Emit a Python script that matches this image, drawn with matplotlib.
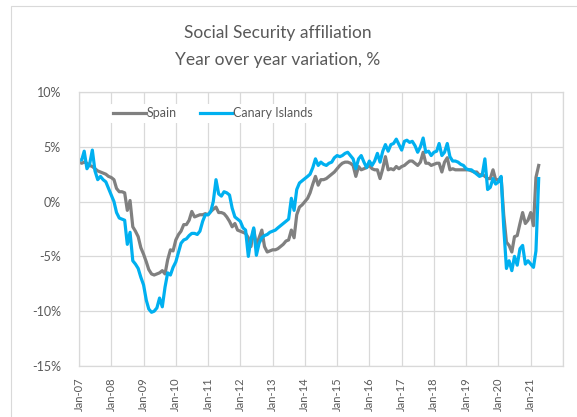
import matplotlib
matplotlib.use("Agg")
import matplotlib.pyplot as plt
from matplotlib.patches import Rectangle
import pandas as pd

plt.rcParams['font.family'] = ['Lato', 'DejaVu Sans']

# year over year variation, %, monthly from Jan 2007
spain = [
    3.6, 3.5, 3.6, 3.5, 3.3, 3.2, 3.0, 2.8, 2.7, 2.6, 2.5, 2.3,          # 2007
    2.2, 2.0, 1.2, 0.9, 0.9, 0.8, -0.8, 0.1, -2.3, -2.7, -3.2, -4.2,     # 2008
    -4.8, -5.5, -6.2, -6.6, -6.7, -6.6, -6.5, -6.3, -6.6, -5.3, -4.4, -4.5,  # 2009
    -3.5, -3.0, -2.7, -2.1, -2.1, -1.7, -0.9, -1.4, -1.3, -1.2, -1.2, -1.1,  # 2010
    -1.2, -0.9, -0.7, -0.5, -1.0, -1.0, -1.1, -1.4, -1.8, -2.3, -2.0, -2.6,  # 2011
    -2.7, -2.8, -2.9, -3.3, -4.1, -2.5, -4.0, -3.3, -2.6, -4.1, -4.6, -4.5,  # 2012
    -4.4, -4.4, -4.3, -4.1, -3.9, -3.6, -3.5, -2.6, -3.3, -1.2, -0.5, -0.3,  # 2013
    0.0, 0.3, 0.8, 1.6, 2.3, 1.5, 2.0, 2.0, 2.1, 2.3, 2.5, 2.7,          # 2014
    3.0, 3.3, 3.5, 3.6, 3.6, 3.5, 3.3, 2.3, 3.2, 2.9, 3.0, 3.1,          # 2015
    3.3, 3.0, 2.9, 2.9, 2.1, 3.0, 4.1, 2.9, 3.0, 2.9, 3.2, 3.0,          # 2016
    3.2, 3.3, 3.5, 3.7, 3.7, 3.5, 3.3, 3.6, 4.5, 3.5, 3.5, 3.3,          # 2017
    3.4, 3.5, 3.5, 2.7, 3.6, 4.0, 2.9, 3.0, 2.9, 2.9, 2.9, 2.9,          # 2018
    2.9, 2.9, 2.8, 2.7, 2.7, 2.4, 2.5, 2.3, 2.1, 2.1, 2.9, 2.0,          # 2019
    2.0, 2.2, -1.2, -3.7, -4.0, -4.6, -3.2, -3.1, -2.0, -1.0, -2.0, -1.7,  # 2020
    -1.0, -2.2, 2.2, 3.3,                                                # 2021
]

canary = [
    3.8, 3.8, 4.6, 3.0, 3.4, 4.7, 2.8, 2.0, 2.3, 2.0, 1.8, 1.2,          # 2007
    0.6, 0.0, -1.0, -1.5, -1.6, -1.7, -3.9, -2.8, -5.4, -5.7, -6.1, -6.9,  # 2008
    -7.6, -9.0, -9.8, -10.1, -10.0, -9.7, -8.8, -9.6, -7.8, -6.5, -6.7, -6.0,  # 2009
    -5.5, -4.6, -3.8, -3.5, -3.4, -3.1, -2.9, -2.9, -3.0, -2.7, -1.8, -1.2,  # 2010
    -1.2, -0.9, 0.0, 2.0, 0.7, 0.5, 0.9, 0.8, 0.6, -0.6, -1.4, -1.6,     # 2011
    -1.8, -2.4, -2.6, -5.0, -3.4, -2.4, -4.9, -3.8, -3.3, -3.1, -3.0, -2.8,  # 2012
    -2.7, -2.6, -2.4, -2.2, -2.0, -1.8, -1.6, 0.3, -0.8, 1.1, 1.7, 1.9,  # 2013
    2.1, 2.3, 2.5, 3.1, 3.9, 3.3, 3.6, 3.4, 3.3, 3.5, 3.6, 4.0,          # 2014
    4.2, 4.1, 4.2, 4.4, 4.5, 4.2, 3.9, 3.0, 3.9, 4.2, 3.6, 3.1,          # 2015
    3.7, 3.3, 3.7, 4.4, 3.6, 4.6, 5.2, 4.6, 5.2, 5.3, 5.7, 5.2,          # 2016
    4.7, 5.5, 5.6, 5.4, 5.5, 5.1, 4.5, 5.0, 5.8, 4.5, 4.6, 4.2,          # 2017
    4.5, 4.6, 5.3, 4.2, 4.5, 5.3, 4.1, 3.7, 3.7, 3.6, 3.4, 3.3,          # 2018
    3.0, 2.9, 2.9, 2.7, 2.5, 2.3, 2.4, 3.9, 1.1, 1.3, 2.1, 1.6,          # 2019
    1.8, 2.3, -2.3, -6.1, -5.4, -6.3, -5.0, -5.8, -4.3, -4.0, -5.7, -5.4,  # 2020
    -5.7, -6.0, -4.5, 2.1,                                               # 2021
]

months = pd.date_range('2007-01-01', periods=len(spain), freq='MS')
year_ticks = pd.date_range('2007-01-01', '2022-01-01', freq='YS')
y_ticks = [-15, -10, -5, 0, 5, 10]

grid_c = '#d9d9d9'
text_c = '#595959'

fig = plt.figure(figsize=(5.77, 4.17), dpi=100)
ax = fig.add_axes([0.1369, 0.1223, 0.8388, 0.6571])

# outer chart frame (runs off the right and bottom of the image)
fig.patches.append(Rectangle((11 / 577, -0.2), 1.2, 0.2 + (417 - 6) / 417,
                             transform=fig.transFigure, fill=False,
                             edgecolor=grid_c, linewidth=0.8))

ax.plot(months, spain, color='#808080', linewidth=2.3, label='Spain')
ax.plot(months, canary, color='#00B0F0', linewidth=2.3, label='Canary Islands')

ax.set_xlim(year_ticks[0], year_ticks[-1])
ax.set_ylim(-15, 10)
ax.set_yticks(y_ticks)
ax.set_yticklabels([f'{v}%' for v in y_ticks])
ax.set_xticks(year_ticks)
ax.set_xticklabels([d.strftime('Jan-%y') for d in year_ticks[:-1]] + [''],
                   rotation=90)

ax.grid(True, color=grid_c, linewidth=0.9)
ax.set_axisbelow(True)
for s in ax.spines.values():
    s.set_color(grid_c)
    s.set_linewidth(0.9)
ax.tick_params(length=0, colors=text_c)
ax.tick_params(axis='y', labelsize=9, pad=13)
ax.tick_params(axis='x', labelsize=8, pad=8)

leg = ax.legend(loc='upper left', bbox_to_anchor=(0.05, 0.98), ncol=2,
                frameon=True, fontsize=9, handlelength=2.6, handletextpad=0.1,
                columnspacing=1.8, borderpad=0.3)
leg.get_frame().set_facecolor('white')
leg.get_frame().set_edgecolor('none')
leg.get_frame().set_alpha(1)
for t in leg.get_texts():
    t.set_color(text_c)

fig.text(0.482, 1 - 33 / 417, 'Social Security affiliation', ha='center',
         va='center', fontsize=12.5, color=text_c)
fig.text(0.482, 1 - 60 / 417, 'Year over year variation, %', ha='center',
         va='center', fontsize=12.5, color=text_c)

fig.savefig('out.png', dpi=100)
